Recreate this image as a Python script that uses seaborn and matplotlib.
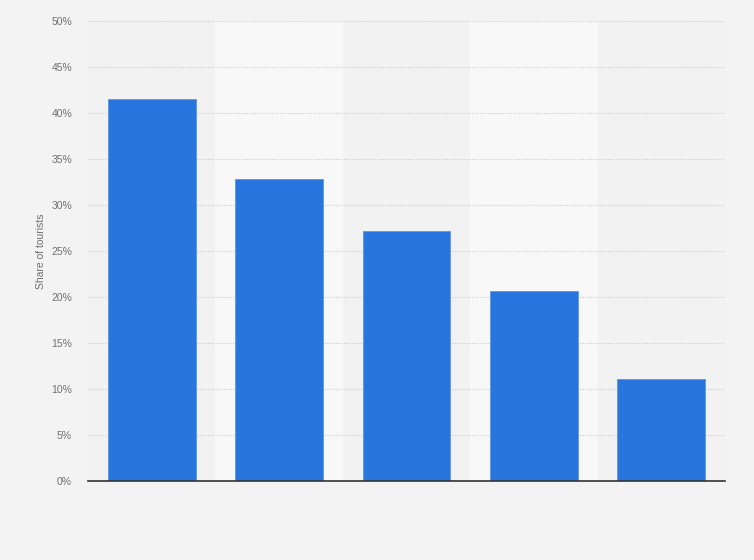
import matplotlib
matplotlib.use("Agg")
import matplotlib.pyplot as plt
import seaborn as sns
import pandas as pd
from matplotlib.ticker import FuncFormatter

# values (x labels are not shown in the reference)
categories = ["Cat 1", "Cat 2", "Cat 3", "Cat 4", "Cat 5"]
shares = [41.5, 32.8, 27.2, 20.65, 11.05]
yticks = [0, 5, 10, 15, 20, 25, 30, 35, 40, 45, 50]

df = pd.DataFrame({"category": categories, "share": shares})

sns.set_style("white")
plt.rcParams["font.family"] = ["Liberation Sans", "DejaVu Sans"]

fig = plt.figure(figsize=(7.54, 5.6), dpi=100, facecolor="#f3f3f3")
ax = fig.add_axes([88 / 754, 79 / 560, (725 - 88) / 754, 460 / 560])
ax.set_facecolor("#f2f2f2")

# alternating lighter column bands
for i in range(len(categories)):
    if i % 2 == 1:
        ax.axvspan(i - 0.5, i + 0.5, color="#f8f8f8", zorder=0, lw=0)

sns.barplot(data=df, x="category", y="share", color="#2876dd", width=0.69,
            saturation=1, ax=ax, zorder=3, edgecolor="#5a96e6", linewidth=0.6)

ax.set_xlim(-0.5, len(categories) - 0.5)
ax.set_ylim(0, 50)
ax.set_yticks(yticks)
ax.yaxis.set_major_formatter(FuncFormatter(lambda v, p: f"{v:.0f}%"))
ax.grid(axis="y", color="#c8c8c8", linestyle=(0, (1, 1.5)), linewidth=0.8, zorder=1)
ax.set_axisbelow(True)

ax.set_xticks(range(len(categories)))
ax.set_xticklabels([])
ax.tick_params(axis="x", length=0)
ax.tick_params(axis="y", length=0, labelsize=7.5, labelcolor="#707070", pad=11.5)

for s in ["top", "right", "left"]:
    ax.spines[s].set_visible(False)
ax.spines["bottom"].set_color("#333333")
ax.spines["bottom"].set_linewidth(1.2)
ax.spines["bottom"].set_zorder(5)

ax.set_xlabel("")
ax.set_ylabel("Share of tourists", fontsize=7.5, color="#707070", labelpad=4)

fig.savefig("out.png", dpi=100, facecolor=fig.get_facecolor())
